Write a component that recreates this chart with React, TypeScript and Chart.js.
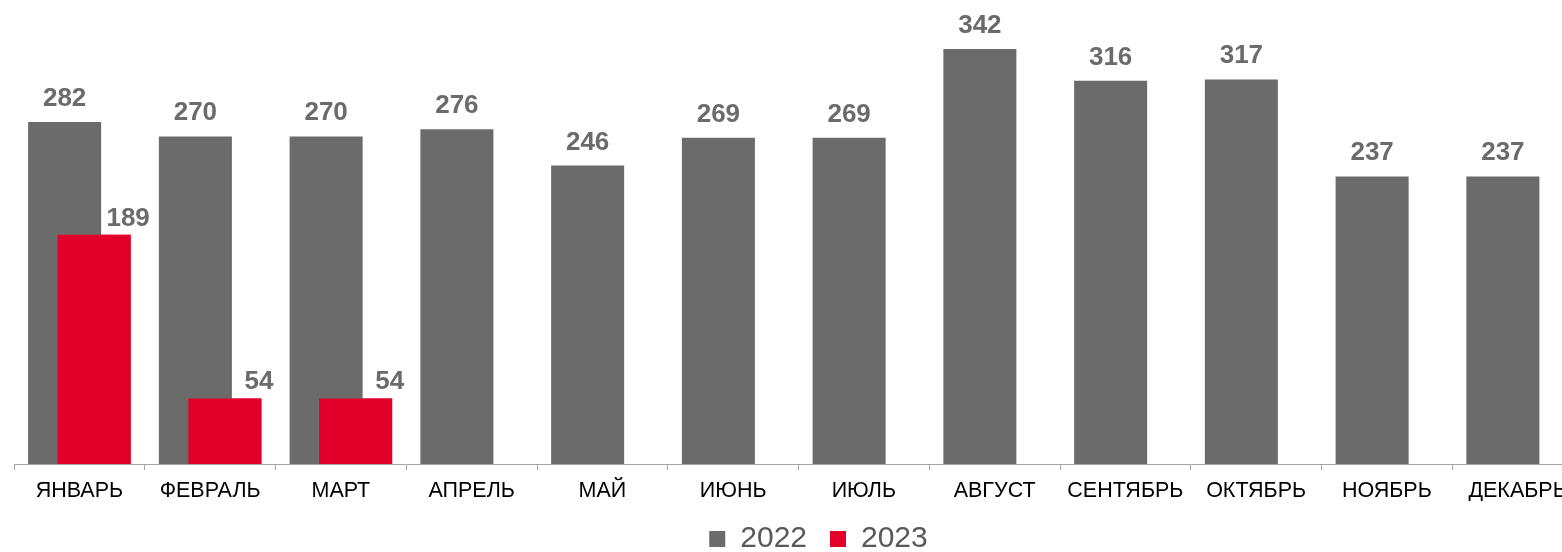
import React, { useEffect, useRef } from 'react';
import { Chart, registerables } from 'chart.js';

Chart.register(...registerables);

const months = ['ЯНВАРЬ', 'ФЕВРАЛЬ', 'МАРТ', 'АПРЕЛЬ', 'МАЙ', 'ИЮНЬ', 'ИЮЛЬ', 'АВГУСТ', 'СЕНТЯБРЬ', 'ОКТЯБРЬ', 'НОЯБРЬ', 'ДЕКАБРЬ'];
const values2022 = [282, 270, 270, 276, 246, 269, 269, 342, 316, 317, 237, 237];
const values2023: (number | null)[] = [189, 54, 54, null, null, null, null, null, null, null, null, null];

const FONT = '"Liberation Sans", Arial, sans-serif';
const GRAY = '#6b6b6b';
const RED = '#e2002b';

const labelPlugin = {
  id: 'barLabels',
  afterLayout(chart: any) {
    const l = chart.legend;
    if (l) {
      l.left += 20;
      l.right += 20;
    }
  },
  afterDatasetsDraw(chart: any) {
    const ctx = chart.ctx;
    // draw 2023 bars on top of 2022 bars
    const redMeta = chart.getDatasetMeta(1);
    redMeta.controller.draw();

    ctx.save();
    ctx.font = `bold 26px ${FONT}`;
    ctx.fillStyle = GRAY;
    ctx.textBaseline = 'alphabetic';
    ctx.textAlign = 'center';
    const grayMeta = chart.getDatasetMeta(0);
    grayMeta.data.forEach((bar: any, i: number) => {
      const v = values2022[i];
      if (v == null) return;
      ctx.fillText(String(v), bar.x, bar.y - 16);
    });
    redMeta.data.forEach((bar: any, i: number) => {
      const v = values2023[i];
      if (v == null) return;
      ctx.fillText(String(v), bar.x + 34, bar.y - 9);
    });
    ctx.restore();
  },
};

export default function App() {
  const ref = useRef<HTMLCanvasElement | null>(null);

  useEffect(() => {
    document.body.style.margin = '0';
    document.body.style.overflow = 'hidden';
    if (!ref.current) return;
    const chart = new Chart(ref.current, {
      type: 'bar',
      data: {
        labels: months,
        datasets: [
          {
            label: '2022',
            data: values2022,
            backgroundColor: GRAY,
            categoryPercentage: 0.4513,
            barPercentage: 2.475,
          },
          {
            label: '2023',
            data: values2023,
            backgroundColor: RED,
            categoryPercentage: 0.4513,
            barPercentage: 2.475,
          },
        ],
      },
      options: {
        responsive: false,
        animation: false,
        layout: { padding: { top: 3, left: 14, right: 7, bottom: 0 } },
        scales: {
          x: {
            grid: {
              display: true,
              drawOnChartArea: false,
              drawTicks: true,
              tickLength: 6,
              color: '#a6a6a6',
              offset: true,
            },
            border: { display: true, color: '#a6a6a6', width: 1 },
            ticks: {
              color: '#000000',
              font: { family: FONT, size: 21.5 },
              padding: 8,
              autoSkip: false,
              maxRotation: 0,
              minRotation: 0,
            },
            afterFit(scale: any) {
              scale.height = 37;
            },
          },
          y: {
            display: false,
            min: 0,
            max: 380,
          },
        },
        plugins: {
          legend: {
            display: true,
            position: 'bottom',
            align: 'center',
            labels: {
              boxWidth: 16,
              boxHeight: 16,
              padding: 23,
              color: '#595959',
              font: { family: FONT, size: 30 },
            },
          },
          tooltip: { enabled: false },
        },
      },
      plugins: [labelPlugin],
    } as any);
    return () => chart.destroy();
  }, []);

  return (
    <div style={{ width: 1562, height: 552, overflow: 'hidden', position: 'relative' }}>
      <canvas ref={ref} width={1590} height={564} style={{ display: 'block', width: 1590, height: 564 }} />
    </div>
  );
}
